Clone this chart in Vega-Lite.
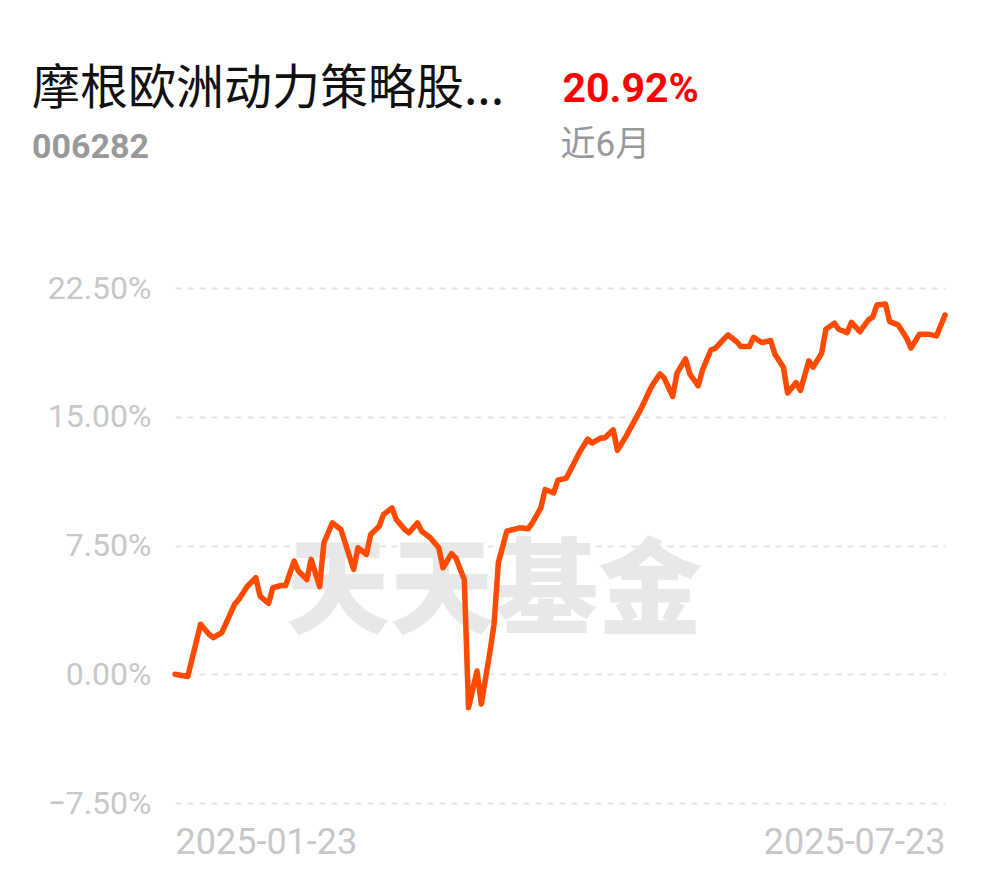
{
  "$schema": "https://vega.github.io/schema/vega-lite/v6.json",
  "width": 770,
  "height": 515,
  "autosize": {"type": "none"},
  "padding": {"left": 175, "top": 288, "right": 45, "bottom": 75},
  "background": "#ffffff",
  "config": {"view": {"stroke": null}},
  "title": {
    "text": "摩根欧洲动力策略股...",
    "subtitle": "006282",
    "anchor": "start",
    "frame": "group",
    "dx": -143,
    "offset": -97,
    "font": "Noto Sans CJK SC",
    "fontSize": 48,
    "fontWeight": "normal",
    "color": "#111111",
    "subtitleFont": "Roboto",
    "subtitleFontSize": 34,
    "subtitleFontWeight": "bold",
    "subtitleColor": "#999999",
    "subtitlePadding": 17
  },
  "layer": [
    {
      "data": {"values": [{"label": "天天基金"}]},
      "mark": {"type": "text", "font": "Noto Sans CJK SC", "fontWeight": 900, "fontSize": 104, "color": "#e6e6e6", "opacity": 0.9, "align": "center", "baseline": "middle"},
      "encoding": {
        "x": {"datum": {"year": 2025, "month": 4, "date": 8, "utc": true}, "type": "temporal"},
        "y": {"datum": 4.6, "type": "quantitative"},
        "text": {"field": "label"}
      }
    },
    {
      "data": {"values": [
        {"date": "2025-01-23", "value": 0.00},
        {"date": "2025-01-26", "value": -0.13},
        {"date": "2025-01-29", "value": 2.91},
        {"date": "2025-01-31", "value": 2.33},
        {"date": "2025-02-01", "value": 2.13},
        {"date": "2025-02-03", "value": 2.42},
        {"date": "2025-02-06", "value": 4.07},
        {"date": "2025-02-07", "value": 4.36},
        {"date": "2025-02-09", "value": 5.13},
        {"date": "2025-02-11", "value": 5.62},
        {"date": "2025-02-12", "value": 4.55},
        {"date": "2025-02-14", "value": 4.13},
        {"date": "2025-02-15", "value": 5.04},
        {"date": "2025-02-17", "value": 5.17},
        {"date": "2025-02-18", "value": 5.17},
        {"date": "2025-02-20", "value": 6.59},
        {"date": "2025-02-21", "value": 6.01},
        {"date": "2025-02-23", "value": 5.52},
        {"date": "2025-02-24", "value": 6.69},
        {"date": "2025-02-26", "value": 5.10},
        {"date": "2025-02-27", "value": 7.66},
        {"date": "2025-03-01", "value": 8.82},
        {"date": "2025-03-03", "value": 8.43},
        {"date": "2025-03-06", "value": 6.10},
        {"date": "2025-03-07", "value": 7.37},
        {"date": "2025-03-09", "value": 6.98},
        {"date": "2025-03-10", "value": 8.14},
        {"date": "2025-03-12", "value": 8.62},
        {"date": "2025-03-13", "value": 9.30},
        {"date": "2025-03-15", "value": 9.69},
        {"date": "2025-03-16", "value": 9.01},
        {"date": "2025-03-18", "value": 8.43},
        {"date": "2025-03-19", "value": 8.24},
        {"date": "2025-03-21", "value": 8.82},
        {"date": "2025-03-22", "value": 8.33},
        {"date": "2025-03-24", "value": 7.95},
        {"date": "2025-03-26", "value": 7.37},
        {"date": "2025-03-27", "value": 6.20},
        {"date": "2025-03-29", "value": 7.03},
        {"date": "2025-03-30", "value": 6.78},
        {"date": "2025-04-01", "value": 5.52},
        {"date": "2025-04-02", "value": -1.94},
        {"date": "2025-04-04", "value": 0.19},
        {"date": "2025-04-05", "value": -1.74},
        {"date": "2025-04-07", "value": 1.26},
        {"date": "2025-04-08", "value": 2.91},
        {"date": "2025-04-09", "value": 6.49},
        {"date": "2025-04-11", "value": 8.33},
        {"date": "2025-04-14", "value": 8.53},
        {"date": "2025-04-16", "value": 8.47},
        {"date": "2025-04-17", "value": 8.82},
        {"date": "2025-04-19", "value": 9.69},
        {"date": "2025-04-20", "value": 10.76},
        {"date": "2025-04-22", "value": 10.56},
        {"date": "2025-04-23", "value": 11.30},
        {"date": "2025-04-25", "value": 11.43},
        {"date": "2025-04-27", "value": 12.40},
        {"date": "2025-04-28", "value": 12.89},
        {"date": "2025-04-30", "value": 13.70},
        {"date": "2025-05-01", "value": 13.47},
        {"date": "2025-05-03", "value": 13.76},
        {"date": "2025-05-04", "value": 13.76},
        {"date": "2025-05-06", "value": 14.24},
        {"date": "2025-05-07", "value": 13.04},
        {"date": "2025-05-09", "value": 13.86},
        {"date": "2025-05-12", "value": 15.21},
        {"date": "2025-05-13", "value": 15.70},
        {"date": "2025-05-15", "value": 16.76},
        {"date": "2025-05-17", "value": 17.50},
        {"date": "2025-05-18", "value": 17.25},
        {"date": "2025-05-20", "value": 16.18},
        {"date": "2025-05-21", "value": 17.54},
        {"date": "2025-05-23", "value": 18.37},
        {"date": "2025-05-24", "value": 17.50},
        {"date": "2025-05-26", "value": 16.80},
        {"date": "2025-05-27", "value": 17.73},
        {"date": "2025-05-29", "value": 18.90},
        {"date": "2025-05-30", "value": 18.99},
        {"date": "2025-06-01", "value": 19.52},
        {"date": "2025-06-02", "value": 19.77},
        {"date": "2025-06-04", "value": 19.38},
        {"date": "2025-06-05", "value": 19.09},
        {"date": "2025-06-07", "value": 19.09},
        {"date": "2025-06-08", "value": 19.63},
        {"date": "2025-06-10", "value": 19.32},
        {"date": "2025-06-12", "value": 19.44},
        {"date": "2025-06-13", "value": 18.66},
        {"date": "2025-06-15", "value": 17.89},
        {"date": "2025-06-16", "value": 16.38},
        {"date": "2025-06-18", "value": 16.99},
        {"date": "2025-06-19", "value": 16.53},
        {"date": "2025-06-21", "value": 18.26},
        {"date": "2025-06-22", "value": 17.89},
        {"date": "2025-06-24", "value": 18.70},
        {"date": "2025-06-25", "value": 20.10},
        {"date": "2025-06-27", "value": 20.45},
        {"date": "2025-06-28", "value": 20.10},
        {"date": "2025-06-30", "value": 19.90},
        {"date": "2025-07-01", "value": 20.50},
        {"date": "2025-07-03", "value": 19.96},
        {"date": "2025-07-05", "value": 20.64},
        {"date": "2025-07-06", "value": 20.80},
        {"date": "2025-07-07", "value": 21.51},
        {"date": "2025-07-09", "value": 21.57},
        {"date": "2025-07-10", "value": 20.54},
        {"date": "2025-07-12", "value": 20.35},
        {"date": "2025-07-14", "value": 19.57},
        {"date": "2025-07-15", "value": 19.00},
        {"date": "2025-07-17", "value": 19.81},
        {"date": "2025-07-19", "value": 19.81},
        {"date": "2025-07-21", "value": 19.71},
        {"date": "2025-07-23", "value": 20.92}
      ]},
      "mark": {"type": "line", "color": "#ff4a00", "strokeWidth": 5.5, "strokeJoin": "round", "strokeCap": "round"},
      "encoding": {
        "x": {
          "field": "date",
          "type": "temporal",
          "scale": {"type": "utc", "domain": [{"year": 2025, "month": 1, "date": 23, "utc": true}, {"year": 2025, "month": 7, "date": 23, "utc": true}], "nice": false},
          "axis": {
            "values": [{"year": 2025, "month": 1, "date": 23, "utc": true}, {"year": 2025, "month": 7, "date": 23, "utc": true}],
            "labelExpr": "utcFormat(datum.value, '%Y-%m-%d')",
            "labelFlush": true,
            "labelLimit": 0,
            "grid": false,
            "domain": false,
            "ticks": false,
            "labelFont": "Roboto",
            "labelFontSize": 36,
            "labelColor": "#c8c8c8",
            "labelPadding": 22,
            "labelBaseline": "top",
            "title": "近6月",
            "titleX": 385,
            "titleY": -648,
            "titleAlign": "left",
            "titleAnchor": "start",
            "titleAngle": 0,
            "titleBaseline": "alphabetic",
            "titleFont": "Roboto, Noto Sans CJK SC",
            "titleFontSize": 35,
            "titleFontWeight": "normal",
            "titleColor": "#999999"
          }
        },
        "y": {
          "field": "value",
          "type": "quantitative",
          "scale": {"domain": [-7.5, 22.5], "nice": false, "zero": false},
          "axis": {
            "values": [-7.5, 0, 7.5, 15, 22.5],
            "labelExpr": "format(datum.value, '.2f') + '%'",
            "grid": true,
            "gridDash": [6, 6],
            "gridColor": "#e3e3e3",
            "gridWidth": 2,
            "domain": false,
            "ticks": false,
            "labelFont": "Roboto",
            "labelFontSize": 32,
            "labelColor": "#c8c8c8",
            "labelPadding": 24,
            "title": "20.92%",
            "titleX": 387,
            "titleY": -187,
            "titleAngle": 0,
            "titleAlign": "left",
            "titleAnchor": "start",
            "titleBaseline": "alphabetic",
            "titleFont": "Roboto",
            "titleFontSize": 41,
            "titleFontWeight": "bold",
            "titleColor": "#ff0000"
          }
        }
      }
    }
  ]
}
